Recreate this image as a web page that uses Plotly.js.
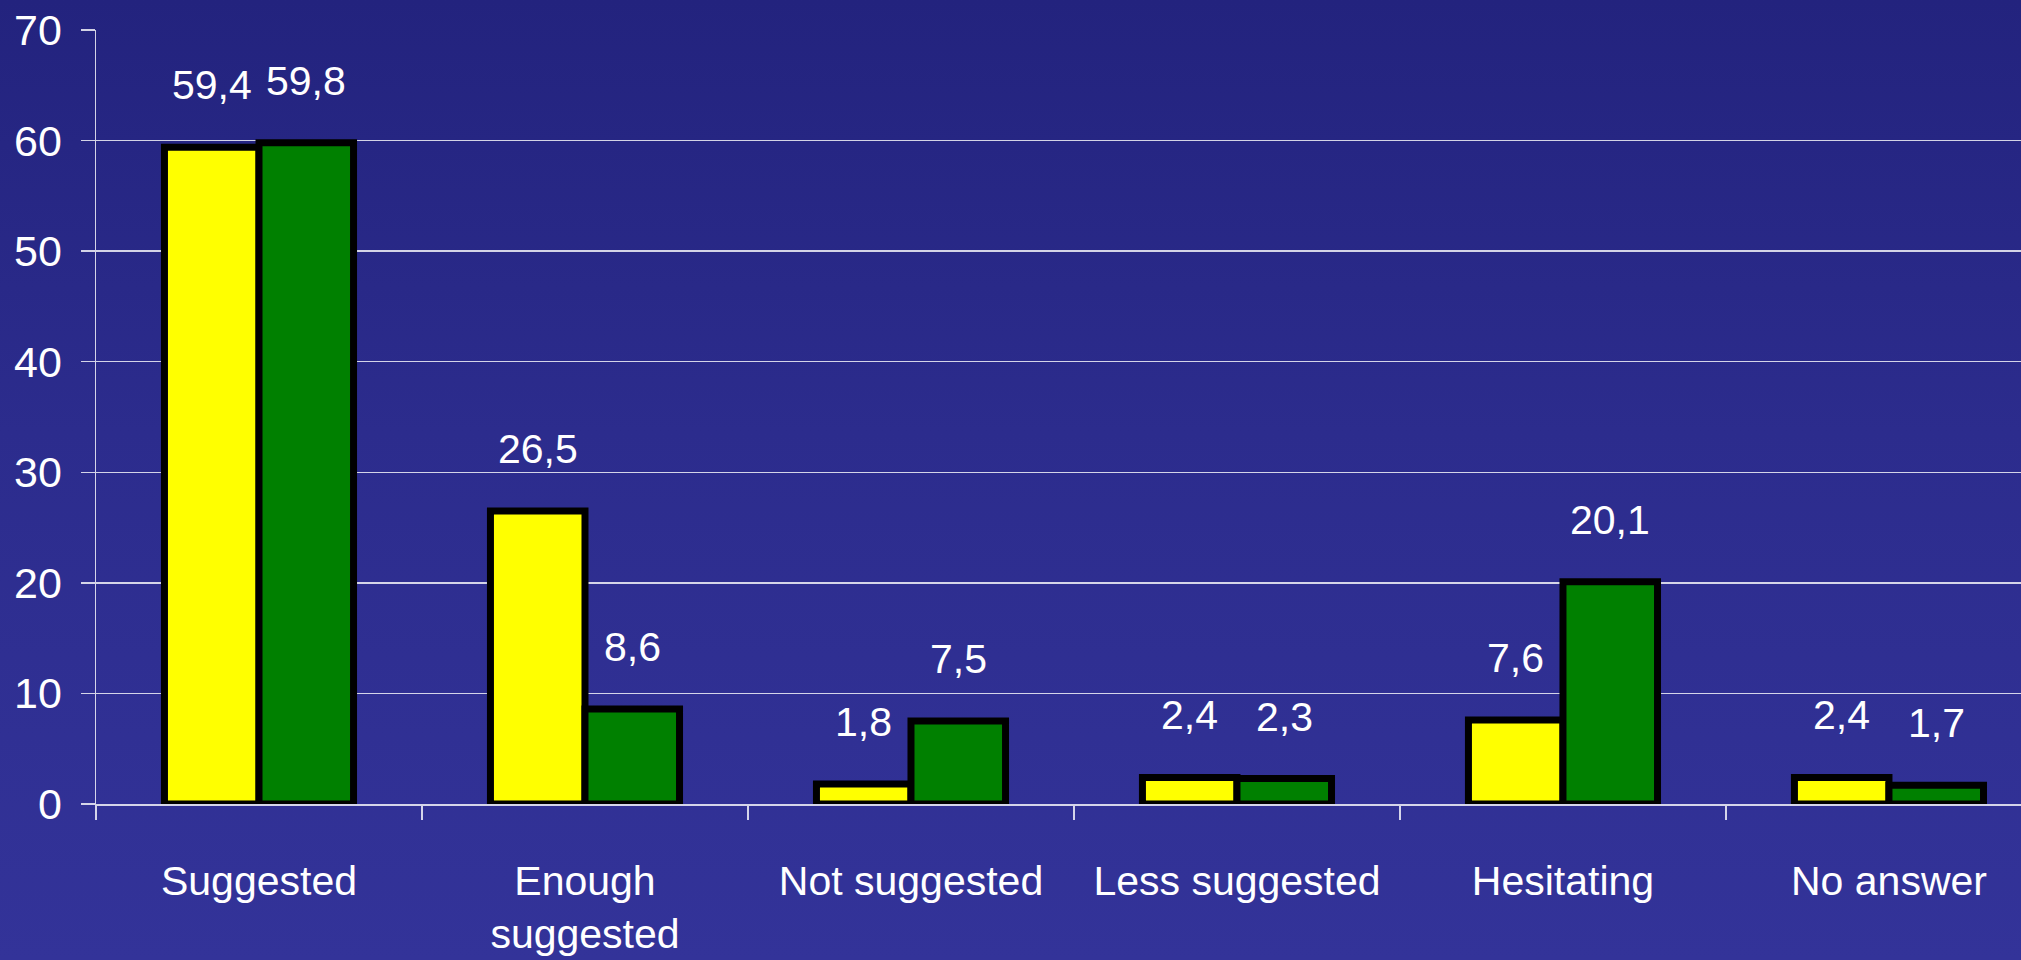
<!DOCTYPE html>
<html>
<head>
<meta charset="utf-8">
<script src="https://cdn.plot.ly/plotly-3.0.1.min.js"></script>
<style>
  html, body { margin: 0; padding: 0; width: 2021px; height: 960px; overflow: hidden; }
  body { background: linear-gradient(to bottom, #23237e 0%, #2c2c8d 45%, #333399 100%); }
  #chart { width: 2021px; height: 960px; }
</style>
</head>
<body>
<div id="chart"></div>
<script>
const categories = ['Suggested', 'Enough<br>suggested', 'Not suggested', 'Less suggested', 'Hesitating', 'No answer'];
const seriesYellow = [59.4, 26.5, 1.8, 2.4, 7.6, 2.4];
const seriesGreen = [59.8, 8.6, 7.5, 2.3, 20.1, 1.7];
const yTicks = [0, 10, 20, 30, 40, 50, 60, 70];

const fontFamily = '"Liberation Sans", Arial, sans-serif';
const gridColor = 'rgba(255,255,255,0.8)';
const fmt = v => v.toString().replace('.', ',');

const traces = [
  {
    type: 'bar', x: categories, y: seriesYellow, name: 'A',
    marker: { color: '#ffff00', line: { color: '#000000', width: 7 } },
    hoverinfo: 'skip'
  },
  {
    type: 'bar', x: categories, y: seriesGreen, name: 'B',
    marker: { color: '#008000', line: { color: '#000000', width: 7 } },
    hoverinfo: 'skip'
  }
];

const annotations = [];
const half = 0.145;
seriesYellow.forEach((v, i) => annotations.push({
  x: i - half, y: v, xref: 'x', yref: 'y', text: fmt(v), showarrow: false,
  yshift: 62, yanchor: 'middle', xanchor: 'center',
  font: { family: fontFamily, size: 41, color: '#ffffff' }
}));
seriesGreen.forEach((v, i) => annotations.push({
  x: i + half, y: v, xref: 'x', yref: 'y', text: fmt(v), showarrow: false,
  yshift: 62, yanchor: 'middle', xanchor: 'center',
  font: { family: fontFamily, size: 41, color: '#ffffff' }
}));

const layout = {
  width: 2021, height: 960,
  margin: { l: 96, r: 0, t: 30, b: 156, pad: 0 },
  paper_bgcolor: 'rgba(0,0,0,0)',
  plot_bgcolor: 'rgba(0,0,0,0)',
  showlegend: false,
  barmode: 'group',
  bargap: 0.42,
  bargroupgap: 0,
  font: { family: fontFamily, color: '#ffffff', size: 40 },
  xaxis: {
    type: 'category',
    range: [-0.5, 5.405],
    tickson: 'boundaries',
    ticks: 'outside', ticklen: 14, tickwidth: 1.5, tickcolor: gridColor,
    showline: true, linecolor: gridColor, linewidth: 1.5,
    showgrid: false, zeroline: false,
    tickfont: { family: fontFamily, size: 41, color: '#ffffff' },
    ticklabelstandoff: 40,
    fixedrange: true
  },
  yaxis: {
    range: [0, 70],
    tickvals: yTicks,
    ticktext: yTicks.map(String),
    ticks: 'outside', ticklen: 14, tickwidth: 1.5, tickcolor: gridColor,
    showgrid: true, gridcolor: gridColor, gridwidth: 1.5,
    showline: true, linecolor: gridColor, linewidth: 1.5,
    zeroline: false,
    tickfont: { family: fontFamily, size: 43, color: '#ffffff' },
    ticklabelstandoff: 10,
    fixedrange: true
  },
  annotations: annotations
};

Plotly.newPlot('chart', traces, layout, { displayModeBar: false, staticPlot: true });
</script>
</body>
</html>
